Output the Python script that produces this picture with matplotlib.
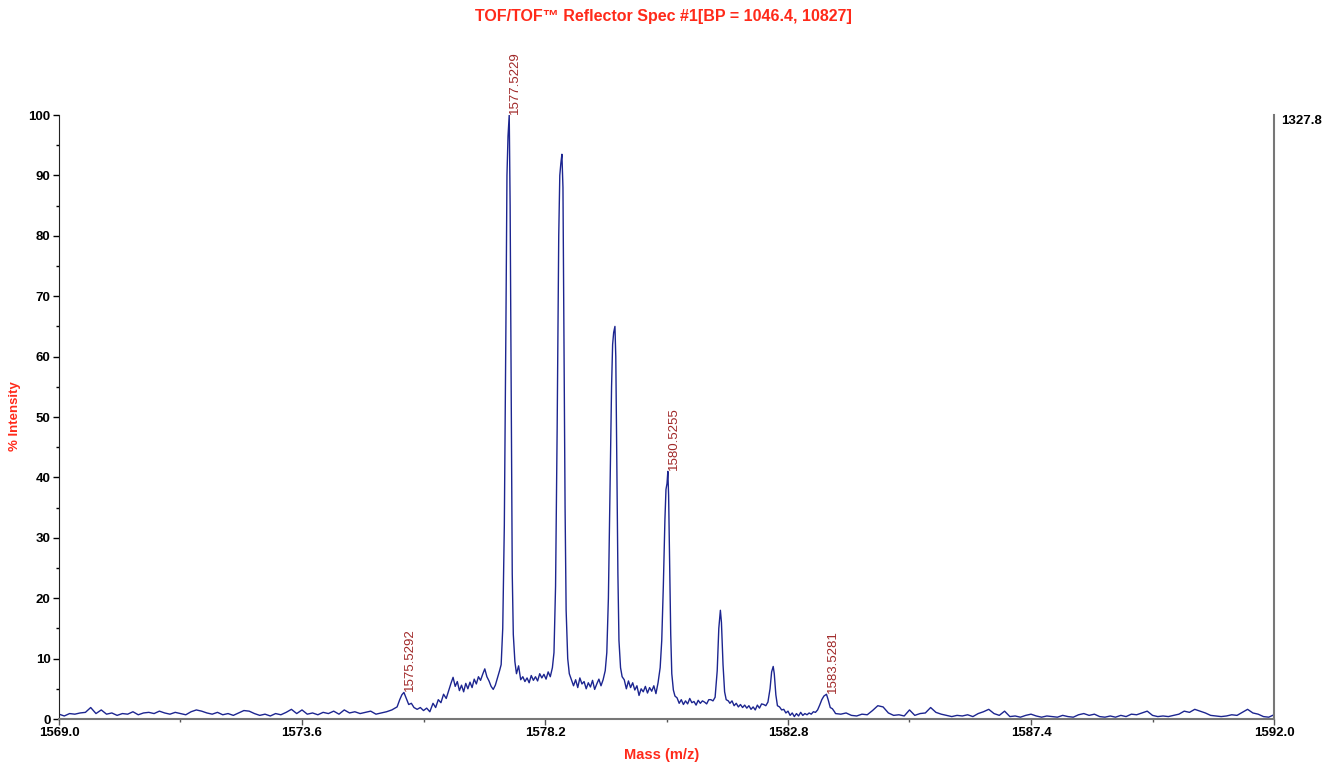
import numpy as np
from matplotlib import pyplot as plt
from matplotlib.ticker import MultipleLocator, FixedLocator, FormatStrFormatter

# Spectrum: low-mass baseline, isotope cluster, high-mass baseline (% intensity)
low_mass = np.round(np.arange(1569.0, 1575.35, 0.1), 2)
low_int = [0.8, 0.5, 0.9, 0.8, 1.0, 1.1, 1.9, 0.9, 1.5, 0.8,
           1.0, 0.6, 0.9, 0.8, 1.2, 0.7, 1.0, 1.1, 0.9, 1.3,
           1.0, 0.8, 1.1, 0.9, 0.7, 1.2, 1.5, 1.3, 1.0, 0.8,
           1.1, 0.7, 0.9, 0.6, 1.0, 1.4, 1.3, 0.9, 0.6, 0.8,
           0.5, 0.9, 0.7, 1.1, 1.6, 0.9, 1.5, 0.8, 1.0, 0.7,
           1.1, 0.9, 1.3, 0.8, 1.5, 1.0, 1.2, 0.9, 1.1, 1.3,
           0.8, 1.0, 1.2, 1.5]

cluster_mass = [
    1575.40, 1575.45, 1575.49, 1575.5292, 1575.57, 1575.62, 1575.67, 1575.72,
    1575.78, 1575.84, 1575.90, 1575.96, 1576.02, 1576.08, 1576.13, 1576.18,
    1576.23, 1576.28, 1576.33, 1576.38, 1576.42, 1576.46, 1576.50, 1576.54,
    1576.58, 1576.62, 1576.66, 1576.70, 1576.74, 1576.78, 1576.82, 1576.86,
    1576.90, 1576.94, 1576.98, 1577.02, 1577.06, 1577.10, 1577.14, 1577.18,
    1577.22, 1577.26, 1577.30, 1577.34, 1577.37, 1577.40, 1577.43, 1577.46,
    1577.48, 1577.50, 1577.5229, 1577.54, 1577.56, 1577.58, 1577.60, 1577.63,
    1577.66, 1577.70, 1577.74, 1577.78, 1577.82, 1577.86, 1577.90, 1577.94,
    1577.98, 1578.02, 1578.06, 1578.10, 1578.14, 1578.18, 1578.22, 1578.26,
    1578.30, 1578.34, 1578.37, 1578.40, 1578.43, 1578.46, 1578.48, 1578.50,
    1578.52, 1578.54, 1578.56, 1578.58, 1578.60, 1578.63, 1578.66, 1578.70,
    1578.74, 1578.78, 1578.82, 1578.86, 1578.90, 1578.94, 1578.98, 1579.02,
    1579.06, 1579.10, 1579.14, 1579.18, 1579.22, 1579.26, 1579.30, 1579.34,
    1579.37, 1579.40, 1579.43, 1579.46, 1579.48, 1579.50, 1579.524, 1579.54,
    1579.56, 1579.58, 1579.60, 1579.63, 1579.66, 1579.70, 1579.74, 1579.78,
    1579.82, 1579.86, 1579.90, 1579.94, 1579.98, 1580.02, 1580.06, 1580.10,
    1580.14, 1580.18, 1580.22, 1580.26, 1580.30, 1580.34, 1580.38, 1580.41,
    1580.44, 1580.47, 1580.49, 1580.51, 1580.5255, 1580.54, 1580.56, 1580.58,
    1580.60, 1580.63, 1580.66, 1580.70, 1580.74, 1580.78, 1580.82, 1580.86,
    1580.90, 1580.94, 1580.98, 1581.02, 1581.06, 1581.10, 1581.14, 1581.18,
    1581.22, 1581.26, 1581.30, 1581.34, 1581.38, 1581.42, 1581.46, 1581.49,
    1581.52, 1581.54, 1581.57, 1581.60, 1581.63, 1581.67, 1581.70, 1581.74,
    1581.78, 1581.82, 1581.86, 1581.90, 1581.94, 1581.98, 1582.02, 1582.06,
    1582.10, 1582.14, 1582.18, 1582.22, 1582.26, 1582.30, 1582.34, 1582.38,
    1582.42, 1582.46, 1582.49, 1582.52, 1582.54, 1582.57, 1582.60, 1582.64,
    1582.68, 1582.72, 1582.76, 1582.80, 1582.84, 1582.88, 1582.92, 1582.96,
    1583.00, 1583.04, 1583.08, 1583.12, 1583.16, 1583.20, 1583.24, 1583.28,
    1583.32, 1583.36, 1583.40, 1583.44, 1583.48, 1583.5281, 1583.56, 1583.60,
    1583.64, 1583.68]
cluster_int = [
    2.0, 3.2, 4.0, 4.4, 3.5, 2.4, 2.6, 1.9,
    1.6, 1.9, 1.4, 1.8, 1.2, 2.6, 1.9, 3.2,
    2.7, 4.1, 3.4, 4.8, 5.9, 6.9, 5.4, 6.2,
    4.7, 5.6, 4.5, 5.9, 5.0, 6.1, 5.2, 6.6,
    5.8, 7.0, 6.4, 7.4, 8.3, 7.0, 6.3, 5.4,
    4.9, 5.6, 6.8, 8.0, 9.0, 15.0, 32.0, 65.0,
    90.0, 96.5, 100.0, 85.0, 55.0, 24.0, 14.0, 9.5,
    7.5, 8.8, 6.5, 7.0, 6.2, 6.8, 6.0, 7.2,
    6.4, 7.0, 6.3, 7.5, 6.8, 7.4, 6.6, 7.8,
    7.0, 8.5, 11.0, 22.0, 48.0, 80.0, 90.0, 92.0,
    93.5, 88.0, 62.0, 35.0, 18.0, 10.0, 7.5, 6.5,
    5.5, 6.5, 5.2, 6.8, 5.8, 6.2, 5.0, 6.0,
    5.3, 6.4, 4.9, 5.8, 6.6, 5.5, 6.5, 8.0,
    11.0, 20.0, 38.0, 55.0, 62.0, 64.0, 65.0, 60.0,
    42.0, 24.0, 13.0, 8.5, 7.0, 6.5, 5.0, 6.3,
    5.2, 6.0, 4.8, 5.5, 3.9, 5.0, 4.5, 5.4,
    4.3, 5.2, 4.6, 5.5, 4.2, 6.0, 8.5, 13.0,
    22.0, 33.0, 38.0, 39.0, 41.0, 37.0, 26.0, 14.0,
    7.5, 4.8, 3.8, 3.5, 2.6, 3.2, 2.4, 3.0,
    2.5, 3.4, 2.7, 2.9, 2.3, 3.1, 2.6, 3.0,
    2.8, 2.5, 3.2, 3.2, 3.0, 3.6, 8.0, 15.0,
    18.0, 16.0, 9.0, 4.5, 3.2, 3.0, 2.6, 3.0,
    2.2, 2.6, 2.0, 2.4, 1.9, 2.3, 1.8, 2.2,
    1.6, 2.0, 1.5, 2.3, 1.8, 2.5, 2.4, 2.2,
    2.8, 5.0, 7.8, 8.7, 7.5, 4.0, 2.2, 2.0,
    1.5, 1.6, 1.0, 1.3, 0.6, 1.0, 0.4, 0.9,
    0.5, 1.1, 0.6, 0.9, 0.7, 1.0, 0.8, 1.2,
    1.1, 1.5, 2.3, 3.2, 3.8, 4.1, 3.2, 1.9,
    1.7, 1.2]

high_mass = np.round(np.arange(1583.7, 1592.05, 0.1), 2)
high_int = [0.9, 0.8, 1.0, 0.6, 0.5, 0.8, 0.7, 1.4, 2.2, 2.0,
            1.0, 0.6, 0.7, 0.5, 1.5, 0.6, 0.9, 1.0, 1.9, 1.1,
            0.8, 0.6, 0.4, 0.6, 0.5, 0.7, 0.4, 0.9, 1.2, 1.6,
            0.9, 0.6, 1.3, 0.4, 0.5, 0.3, 0.6, 0.8, 0.5, 0.3,
            0.5, 0.4, 0.3, 0.6, 0.4, 0.3, 0.7, 0.9, 0.6, 0.8,
            0.4, 0.3, 0.5, 0.3, 0.6, 0.4, 0.8, 0.7, 1.0, 1.3,
            0.6, 0.4, 0.5, 0.4, 0.6, 0.8, 1.3, 1.1, 1.6, 1.3,
            1.0, 0.6, 0.5, 0.4, 0.5, 0.7, 0.6, 1.1, 1.6, 1.0,
            0.8, 0.4, 0.3, 0.7]

# Centroid labels drawn above picked peaks
peak_labels = [1575.5292, 1577.5229, 1580.5255, 1583.5281]

x_ticks = [1569.0, 1573.6, 1578.2, 1582.8, 1587.4, 1592.0]
max_counts = "1327.8"

title_text = "TOF/TOF\u2122 Reflector Spec #1[BP = 1046.4, 10827]"

RED = "#ff2a1a"
LINE = "#1c2590"
LABEL = "#a02828"

plt.rcParams['font.family'] = ['Liberation Sans', 'DejaVu Sans']


def build_spectrum():
    mass = np.concatenate([low_mass, cluster_mass, high_mass])
    inten = np.concatenate([low_int, cluster_int, high_int])
    return mass, inten


def plot_spectrum(mass, inten):
    fig = plt.figure(figsize=(13.27, 7.63), dpi=100)
    ax = fig.add_axes([59 / 1327, 44 / 763, 1215 / 1327, 604 / 763])

    ax.plot(mass, inten, color=LINE, lw=1.0)

    # peak annotations
    for m in peak_labels:
        h = inten[np.argmin(np.abs(mass - m))]
        ax.annotate(f"{m:.4f}", (m, h), xytext=(0, 1), textcoords="offset points",
                    rotation=90, ha="left", va="bottom", fontsize=9.5,
                    color=LABEL, clip_on=False)

    ax.set_xlim(1569.0, 1592.0)
    ax.set_ylim(0, 100)

    ax.xaxis.set_major_locator(FixedLocator(x_ticks))
    ax.xaxis.set_minor_locator(FixedLocator([(a + b) / 2 for a, b in zip(x_ticks[:-1], x_ticks[1:])]))
    ax.xaxis.set_major_formatter(FormatStrFormatter("%.1f"))
    ax.yaxis.set_major_locator(MultipleLocator(10))
    ax.yaxis.set_minor_locator(MultipleLocator(5))

    ax.tick_params(axis="both", which="major", length=4, width=1, labelsize=9.5, pad=2)
    ax.tick_params(axis="both", which="minor", length=2.5, width=1)
    ax.tick_params(axis="x", which="both", colors="#555555", labelcolor="black")
    for lbl in ax.get_xticklabels() + ax.get_yticklabels():
        lbl.set_fontweight("bold")

    ax.spines["top"].set_visible(False)
    ax.spines["left"].set_color("#222222")
    ax.spines["bottom"].set_color("#777777")
    ax.spines["right"].set_color("#777777")
    ax.spines["bottom"].set_linewidth(1.5)
    ax.spines["right"].set_linewidth(1.5)

    ax.text(1.0 + 7 / 1215, 1.0, max_counts, transform=ax.transAxes, ha="left",
            va="top", fontsize=9.5, fontweight="bold")

    fig.text(0.5, 1 - 16 / 763, title_text, ha="center", va="center",
             fontsize=11.5, fontweight="bold", color=RED)
    fig.text(15 / 1327, 1 - 416 / 763, "% Intensity", rotation=90, ha="center",
             va="center", fontsize=9.5, fontweight="bold", color=RED)
    fig.text(662 / 1327, 4 / 763, "Mass (m/z)", ha="center", va="baseline",
             fontsize=10.5, fontweight="bold", color=RED)

    fig.savefig("out.png", dpi=100, facecolor="white")


if __name__ == "__main__":
    mass, inten = build_spectrum()
    plot_spectrum(mass, inten)
